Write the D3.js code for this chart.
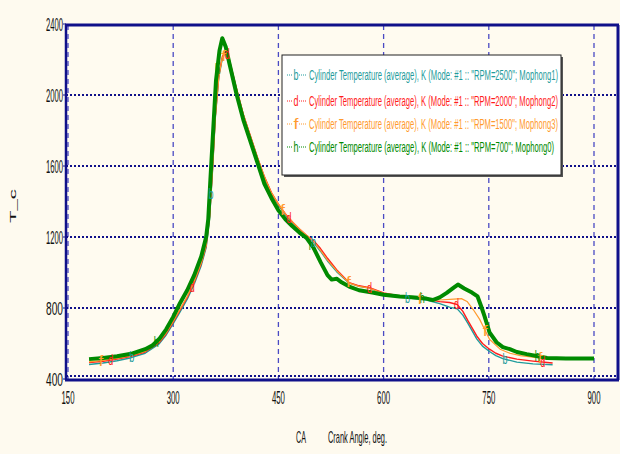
<!DOCTYPE html>
<html>
<head>
<meta charset="utf-8">
<script src="https://cdn.jsdelivr.net/npm/d3@7"></script>
<style>
  html, body { margin: 0; padding: 0; background: #fefaef; }
  svg { display: block; }
  text { font-family: "Liberation Sans Narrow", "Liberation Sans", Arial, sans-serif; }
</style>
</head>
<body>
<svg id="chart" width="620" height="454"></svg>
<script>
// Axis ticks
const xTicks = [150, 300, 450, 600, 750, 900];
const yTicks = [400, 800, 1200, 1600, 2000, 2400];

// Series b: RPM=2500
const caB = [180,200,220,240,260,280,290,300,310,320,330,340,347,352,356,360,365,370,375,380,390,400,410,420,430,440,450,460,470,480,490,500,510,520,533,551,565,580,600,623,640,661,680,694,705,713,720,733,741,751,760,770,790,813,841];
const tB  = [482,490,503,520,545,598,648,712,780,850,935,1040,1140,1310,1570,1870,2100,2205,2240,2195,2035,1885,1765,1645,1535,1445,1380,1325,1280,1240,1205,1170,1120,1065,1005,940,922,912,880,865,855,845,825,805,795,760,715,625,585,555,532,515,495,485,480];

// Series d: RPM=2000
const caD = [180,200,220,240,260,280,290,300,310,320,330,340,347,352,356,360,365,370,375,380,390,400,410,420,430,440,450,460,470,480,490,500,510,520,533,551,565,580,600,623,640,661,680,694,705,713,720,733,741,751,760,770,790,813,841];
const tD  = [492,500,512,528,552,605,655,720,790,860,945,1050,1150,1320,1580,1880,2110,2215,2250,2200,2040,1890,1770,1650,1540,1450,1385,1330,1285,1245,1210,1180,1135,1080,1016,943,925,915,885,868,860,850,836,831,820,781,730,641,600,568,545,529,512,501,490];

// Series f: RPM=1500
const caF = [180,200,220,240,260,280,290,300,310,320,330,340,347,352,356,360,365,370,375,380,390,400,410,420,430,440,450,460,470,480,490,500,510,520,533,551,565,580,600,623,640,661,680,700,711,719,728,737,751,766,780,795,813,841];
const tF  = [497,505,516,532,556,610,660,725,795,865,950,1055,1155,1320,1575,1870,2100,2210,2240,2195,2040,1890,1770,1650,1540,1450,1385,1330,1285,1245,1210,1175,1125,1070,1010,940,922,912,882,866,858,850,845,850,853,837,790,736,624,568,545,532,523,512];

// Series h: RPM=700
const caH = [180,200,220,240,260,270,280,290,300,310,320,330,340,347,350,353,357,361,366,370,375,380,390,400,410,420,430,440,450,460,470,480,490,500,510,520,526,533,540,551,565,584,600,623,640,661,670,680,690,700,706,715,726,734,740,744,751,761,770,780,790,804,820,833,860,900];
const tH  = [512,518,528,542,568,588,625,680,750,830,900,985,1090,1200,1300,1520,1800,2080,2250,2320,2270,2180,2010,1860,1740,1620,1500,1420,1350,1300,1260,1225,1195,1140,1060,985,960,965,945,921,900,887,875,865,860,853,845,860,885,915,932,910,887,865,800,753,663,607,580,568,552,540,528,518,515,515];

// Where the letter markers sit along each curve (crank angle)
const markB = [241, 354, 500, 634, 773];
const markD = [211, 327, 377, 465, 580, 704, 827];
const markF = [197, 372, 456, 550, 652, 745, 823];
const markH = [276, 363, 497, 655, 819];

const seriesNames = [
    'Cylinder Temperature (average), K (Mode: #1 :: "RPM=2500"; Mophong1)',
    'Cylinder Temperature (average), K (Mode: #1 :: "RPM=2000"; Mophong2)',
    'Cylinder Temperature (average), K (Mode: #1 :: "RPM=1500"; Mophong3)',
    'Cylinder Temperature (average), K (Mode: #1 :: "RPM=700"; Mophong0)'
];
const seriesLetters = ["b", "d", "f", "h"];
const seriesColors = ["#1f9c9c", "#ff1c1c", "#ff9a2e", "#008a00"];

const series = [
    { ca: caB, t: tB, marks: markB, width: 1.4 },
    { ca: caD, t: tD, marks: markD, width: 1.4 },
    { ca: caF, t: tF, marks: markF, width: 1.2 },
    { ca: caH, t: tH, marks: markH, width: 4 }
].map((s, i) => ({
    ...s,
    name: seriesNames[i],
    letter: seriesLetters[i],
    color: seriesColors[i],
    points: s.ca.map((c, j) => ({ ca: c, t: s.t[j] }))
}));

const svg = d3.select("#chart");

// Plot frame
const frame = { left: 66, right: 618, top: 25, bottom: 380 };

const xScale = d3.scaleLinear().domain([150, 900]).range([68, 594]);
const yScale = d3.scaleLinear().domain([400, 2400]).range([379, 24]);

// background
svg.append("rect")
    .attr("width", 620).attr("height", 454)
    .attr("fill", "#fefaef");
svg.append("rect")
    .attr("x", frame.left).attr("y", frame.top)
    .attr("width", frame.right - frame.left)
    .attr("height", frame.bottom - frame.top)
    .attr("fill", "#fffbf0");

// Vertical dashed grid
svg.append("g")
    .selectAll("line")
    .data(xTicks)
    .enter()
    .append("line")
    .attr("x1", d => xScale(d)).attr("x2", d => xScale(d))
    .attr("y1", frame.top).attr("y2", frame.bottom)
    .attr("stroke", "#4a4ac4")
    .attr("stroke-width", 1.3)
    .attr("stroke-dasharray", "5,4");

// Horizontal dotted grid
svg.append("g")
    .selectAll("line")
    .data(yTicks.filter(d => d < 2400))
    .enter()
    .append("line")
    .attr("x1", frame.left).attr("x2", frame.right)
    .attr("y1", d => Math.round(yScale(d)) - (d === 400 ? 3 : 0))
    .attr("y2", d => Math.round(yScale(d)) - (d === 400 ? 3 : 0))
    .attr("stroke", "#10108a")
    .attr("stroke-width", 2)
    .attr("stroke-dasharray", "2,2");

// Curves
const line = d3.line()
    .x(d => xScale(d.ca))
    .y(d => yScale(d.t));

svg.append("g")
    .selectAll("path")
    .data(series)
    .enter()
    .append("path")
    .attr("d", d => line(d.points))
    .attr("fill", "none")
    .attr("stroke", d => d.color)
    .attr("stroke-width", d => d.width)
    .attr("stroke-linejoin", "round");

// Letter markers along the curves
function tempAt(s, c) {
    const i = d3.bisector(d => d.ca).left(s.points, c);
    if (i <= 0) return s.points[0].t;
    if (i >= s.points.length) return s.points[s.points.length - 1].t;
    const a = s.points[i - 1], b = s.points[i];
    return a.t + (b.t - a.t) * (c - a.ca) / (b.ca - a.ca);
}

series.forEach(s => {
    svg.append("g")
        .selectAll("text")
        .data(s.marks)
        .enter()
        .append("text")
        .attr("x", d => xScale(d))
        .attr("y", d => yScale(tempAt(s, d)) + 5)
        .attr("text-anchor", "middle")
        .attr("font-size", "14px")
        .attr("textLength", 5)
        .attr("lengthAdjust", "spacingAndGlyphs")
        .attr("fill", s.color)
        .text(s.letter);
});

// Frame border
const border = svg.append("g").attr("stroke", "#10108a").attr("fill", "none");
border.append("line").attr("x1", frame.left - 1).attr("x2", frame.right + 1)
    .attr("y1", frame.top).attr("y2", frame.top).attr("stroke-width", 3);
border.append("line").attr("x1", frame.left - 1).attr("x2", frame.right + 1)
    .attr("y1", frame.bottom).attr("y2", frame.bottom).attr("stroke-width", 3);
border.append("line").attr("x1", frame.left).attr("x2", frame.left)
    .attr("y1", frame.top).attr("y2", frame.bottom).attr("stroke-width", 2.5);
border.append("line").attr("x1", frame.right).attr("x2", frame.right)
    .attr("y1", frame.top).attr("y2", frame.bottom).attr("stroke-width", 3);

// Small ticks on the left axis
svg.append("g")
    .selectAll("line")
    .data(yTicks)
    .enter()
    .append("line")
    .attr("x1", frame.left - 3).attr("x2", frame.left)
    .attr("y1", d => yScale(d)).attr("y2", d => yScale(d))
    .attr("stroke", "#10108a");

// Y tick labels
svg.append("g")
    .selectAll("text")
    .data(yTicks)
    .enter()
    .append("text")
    .attr("x", 63)
    .attr("y", d => yScale(d) + 7)
    .attr("text-anchor", "end")
    .attr("font-size", "19px")
    .attr("textLength", 17)
    .attr("lengthAdjust", "spacingAndGlyphs")
    .attr("fill", "#111")
    .text(d => d);

// X tick labels
svg.append("g")
    .selectAll("text")
    .data(xTicks)
    .enter()
    .append("text")
    .attr("x", d => xScale(d))
    .attr("y", 404)
    .attr("text-anchor", "middle")
    .attr("font-size", "19px")
    .attr("textLength", 13)
    .attr("lengthAdjust", "spacingAndGlyphs")
    .attr("fill", "#111")
    .text(d => d);

// Axis titles
svg.append("text")
    .attr("x", 296).attr("y", 443)
    .attr("font-size", "17px")
    .attr("textLength", 10)
    .attr("lengthAdjust", "spacingAndGlyphs")
    .attr("fill", "#111")
    .text("CA");
svg.append("text")
    .attr("x", 328).attr("y", 443)
    .attr("font-size", "17px")
    .attr("textLength", 59)
    .attr("lengthAdjust", "spacingAndGlyphs")
    .attr("fill", "#111")
    .text("Crank Angle, deg.");
svg.append("text")
    .attr("transform", "translate(16, 223) rotate(-90)")
    .attr("font-size", "9px")
    .attr("textLength", 34)
    .attr("lengthAdjust", "spacingAndGlyphs")
    .attr("fill", "#111")
    .text("T_c");

// Legend box with shadow
const legend = { x: 282, y: 55, w: 279, h: 120 };
svg.append("rect")
    .attr("x", legend.x + 2).attr("y", legend.y + 2)
    .attr("width", legend.w).attr("height", legend.h)
    .attr("fill", "#555");
svg.append("rect")
    .attr("x", legend.x).attr("y", legend.y)
    .attr("width", legend.w).attr("height", legend.h)
    .attr("fill", "#ffffff")
    .attr("stroke", "#222")
    .attr("stroke-width", 1);

const legendRows = [75, 101, 124, 147];
series.forEach((s, i) => {
    const g = svg.append("g").attr("transform", `translate(0, ${legendRows[i]})`);
    g.append("line")
        .attr("x1", 287).attr("x2", 306)
        .attr("y1", 0).attr("y2", 0)
        .attr("stroke", s.color)
        .attr("stroke-width", 1)
        .attr("stroke-dasharray", "1,1");
    g.append("rect")
        .attr("x", 293).attr("y", -7).attr("width", 6).attr("height", 13)
        .attr("fill", "#fff");
    g.append("text")
        .attr("x", 296).attr("y", 5)
        .attr("text-anchor", "middle")
        .attr("font-size", "14px")
        .attr("textLength", 5)
        .attr("lengthAdjust", "spacingAndGlyphs")
        .attr("fill", s.color)
        .text(s.letter);
    g.append("text")
        .attr("x", 309).attr("y", 5)
        .attr("font-size", "14px")
        .attr("textLength", i === 3 ? 245 : 249)
        .attr("lengthAdjust", "spacingAndGlyphs")
        .attr("fill", s.color)
        .text(s.name);
});
</script>
</body>
</html>
